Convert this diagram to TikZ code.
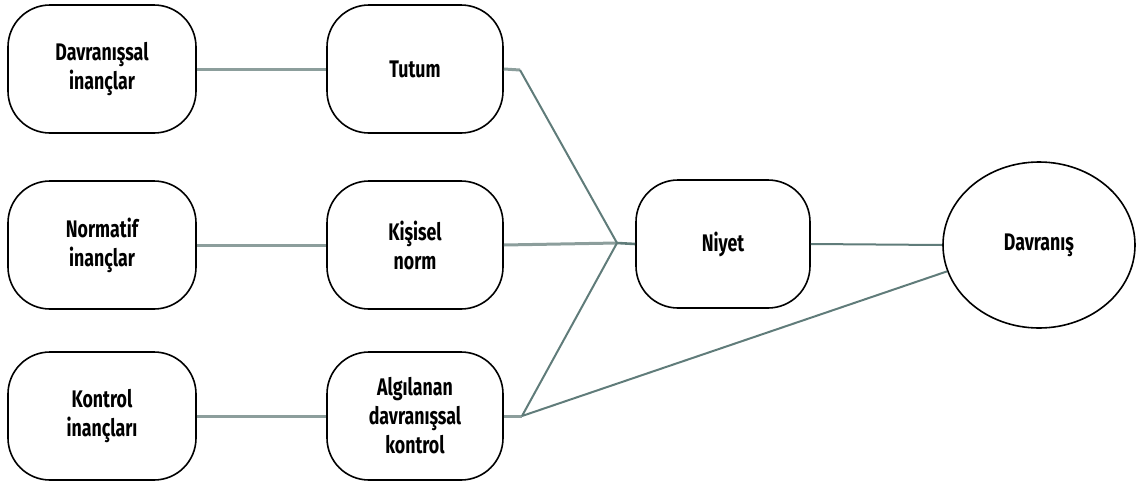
\documentclass[tikz,border=0pt]{standalone}
\usepackage{fontspec}
\setmainfont{Fira Sans}[FakeStretch=0.74]
\usetikzlibrary{positioning, shapes.geometric}

\definecolor{linkgray}{RGB}{96,124,122}
\definecolor{feedgray}{RGB}{140,158,156}

\begin{document}
\begin{tikzpicture}[x=1pt, y=-1pt,
    font=\fontsize{24}{29}\selectfont\bfseries,
    belief/.style={draw=black, line width=1.6pt, fill=white, rounded corners=42pt,
                   minimum width=188pt, minimum height=128pt, align=center,
                   inner sep=2pt},
    factor/.style={belief, minimum width=176pt},
    outcome/.style={draw=black, line width=1.6pt, fill=white, ellipse,
                    minimum width=192pt, minimum height=166pt, inner sep=0pt},
    feed/.style={draw=feedgray, line width=3pt},
    link/.style={draw=linkgray, line width=2pt}]

  \useasboundingbox (0,0) rectangle (1138,485);

  % ---- the beliefs on the left
  \node[belief] (b1) at (102,69)  {Davranışsal\\inançlar};
  \node[belief] (b2) at (102,245) {Normatif\\inançlar};
  \node[belief] (b3) at (102,416) {Kontrol\\inançları};

  % ---- what each belief gives rise to
  \node[factor] (f1) at (415,69)  {Tutum};
  \node[factor] (f2) at (415,245) {Kişisel\\norm};
  \node[factor] (f3) at (415,416) {Algılanan\\davranışsal\\kontrol};

  % ---- intention and behaviour
  \node[factor, minimum width=174pt] (ni) at (723,244) {Niyet};
  \node[outcome] (dv) at (1039,245) {Davranış};

  % ---- the joints where the lines meet
  \coordinate (ts) at (520,70);
  \coordinate (as) at (522,416);
  \coordinate (cv) at (617,243);

  \draw[feed] (b1) -- (f1);
  \draw[feed] (b2) -- (f2);
  \draw[feed] (b3) -- (f3);

  \draw[feed] (f1.east) -- (ts);
  \draw[feed] (f2.east) -- (cv);
  \draw[feed] (f3.east) -- (as);
  \draw[link] (ts) -- (cv);
  \draw[link] (as) -- (cv);
  \draw[link, line width=2.6pt] (cv) -- (ni.west);
  \draw[link] (ni.east) -- (dv.west);
  \draw[link] (as) -- (dv.196);
\end{tikzpicture}
\end{document}
